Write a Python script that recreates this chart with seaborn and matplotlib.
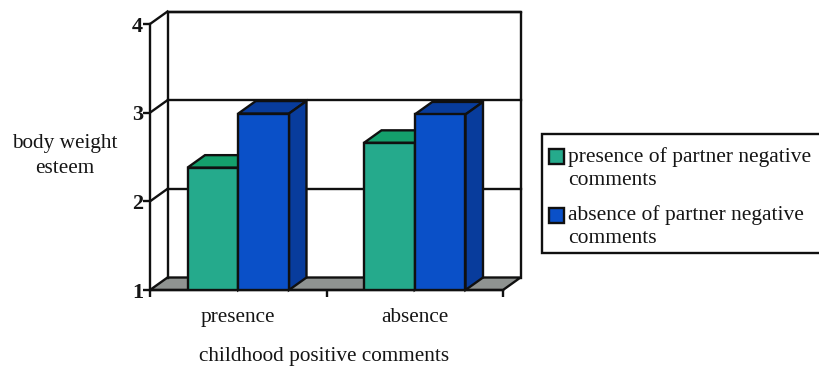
import matplotlib
matplotlib.use("Agg")
import matplotlib.pyplot as plt
from matplotlib.colors import to_rgb
from matplotlib.legend_handler import HandlerPatch
from matplotlib.patches import Polygon, Rectangle
from matplotlib.ticker import FixedLocator
import pandas as pd
import seaborn as sns

categories = ["presence", "absence"]
series_names = ["presence of partner negative\ncomments", "absence of partner negative\ncomments"]
partner_presence = [2.38, 2.66]
partner_absence = [2.99, 2.98]
y_ticks = [1, 2, 3, 4]

GREEN, GREEN_DK = "#25AA8C", "#14A06C"
BLUE, BLUE_DK = "#0A50C8", "#083C9C"
GREY = "#8F9391"
LW = 1.7
FS = 15.3

sns.set_theme(style="white")
plt.rcParams["font.family"] = ["Liberation Serif", "DejaVu Serif"]

df = pd.DataFrame({
    "cat": categories * 2,
    "val": partner_presence + partner_absence,
    "series": [series_names[0]] * 2 + [series_names[1]] * 2,
})

W, H = 819, 366
fig = plt.figure(figsize=(W / 100, H / 100), dpi=100)
ax = fig.add_axes([150 / W, (H - 290) / H, 353 / W, 266 / H])
sns.barplot(data=df, x="cat", y="val", hue="series", hue_order=series_names,
            order=categories, palette=[GREEN, BLUE], width=0.575, gap=0,
            saturation=1, edgecolor="#101010", linewidth=LW, legend=False, ax=ax)
bars = [p for p in ax.patches if isinstance(p, Rectangle) and p.get_height() > 1]
ax.set_xlim(-0.5, 1.5)
ax.set_ylim(1, 4)

# depth of the pseudo-3D box, in data units
dx, dy = 17.5 / 176.5, 12.5 / 88.7
x0, x1, y0, y1 = -0.5, 1.5, 1, 4
ink = dict(color="#101010", lw=LW, clip_on=False, solid_capstyle="projecting")

# floor, back wall and slanted grid
ax.add_patch(Polygon([(x0, y0), (x0 + dx, y0 + dy), (x1 + dx, y0 + dy), (x1, y0)],
                     closed=True, fc=GREY, ec="#101010", lw=LW, clip_on=False, zorder=0.5))
ax.plot([x0 + dx, x0 + dx, x1 + dx, x1 + dx], [y0 + dy, y1 + dy, y1 + dy, y0 + dy], zorder=0.6, **ink)
for t in y_ticks[1:]:
    ax.plot([x0 + dx, x1 + dx], [t + dy, t + dy], zorder=0.6, **ink)
    ax.plot([x0, x0 + dx], [t, t + dy], zorder=0.6, **ink)

# bar sides and tops derived from the drawn bars
for p in bars:
    l, w, top = p.get_x(), p.get_width(), p.get_y() + p.get_height()
    is_green = abs(p.get_facecolor()[1] - to_rgb(GREEN)[1]) < 0.02
    dark = GREEN_DK if is_green else BLUE_DK
    z = 2.1 if is_green else 2.4
    p.set_zorder(z + 0.1)
    ax.add_patch(Polygon([(l, top), (l + dx, top + dy), (l + w + dx, top + dy), (l + w, top)],
                         closed=True, fc=dark, ec="#101010", lw=LW, clip_on=False, zorder=z))
    ax.add_patch(Polygon([(l + w, y0), (l + w + dx, y0 + dy), (l + w + dx, top + dy), (l + w, top)],
                         closed=True, fc=dark, ec="#101010", lw=LW, clip_on=False, zorder=z))

# axes
sns.despine(ax=ax)
for s in ("left", "bottom"):
    ax.spines[s].set_linewidth(LW)
    ax.spines[s].set_color("#101010")
    ax.spines[s].set_zorder(5)
ax.set_yticks(y_ticks)
ax.set_yticklabels([str(t) for t in y_ticks], fontweight="bold", fontsize=16, color="#151515")
ax.tick_params(axis="y", left=True, length=5, width=LW, color="#101010", pad=0)
ax.tick_params(axis="x", which="major", bottom=False, length=0, pad=13, labelsize=FS, labelcolor="#151515")
ax.xaxis.set_minor_locator(FixedLocator([-0.5, 0.5, 1.5]))
ax.tick_params(axis="x", which="minor", bottom=True, length=5, width=LW, color="#101010")
ax.set_xlabel("childhood positive comments", fontsize=FS, color="#151515", labelpad=14.5, x=0.493)
ax.set_ylabel("")
fig.text(65 / W, 1 - 156 / H, "body weight\nesteem", ha="center", va="center",
         fontsize=FS, color="#151515", linespacing=1.45)

# legend frame, running off the right edge as in the reference
fig.add_artist(Rectangle((542 / W, 1 - 253 / H), 290 / W, 119 / H, transform=fig.transFigure,
                         fc="white", ec="#101010", lw=LW, zorder=3))


# legend: the swatch sits beside the first line of its two-line label
def first_line_swatch(legend, orig_handle, xdescent, ydescent, width, height, fontsize):
    return Rectangle((-4.1, 8.0), 10.8, 10.8)


handles = [Rectangle((0, 0), 1, 1, fc=GREEN, ec="#101010", lw=LW),
           Rectangle((0, 0), 1, 1, fc=BLUE, ec="#101010", lw=LW)]
leg = fig.legend(handles, series_names, loc="upper left",
                 bbox_to_anchor=(542 / W, 1 - 134 / H, 290 / W, 0), mode="expand",
                 borderaxespad=0, fontsize=15.5, frameon=False,
                 handlelength=0.6, handleheight=0.8, handletextpad=0.02,
                 labelspacing=0.7, borderpad=0.6, labelcolor="#151515",
                 handler_map={Rectangle: HandlerPatch(patch_func=first_line_swatch)})
leg.set_zorder(4)
for t in leg.get_texts():
    t.set_linespacing(1.3)

fig.savefig("out.png", dpi=100, facecolor="white")
